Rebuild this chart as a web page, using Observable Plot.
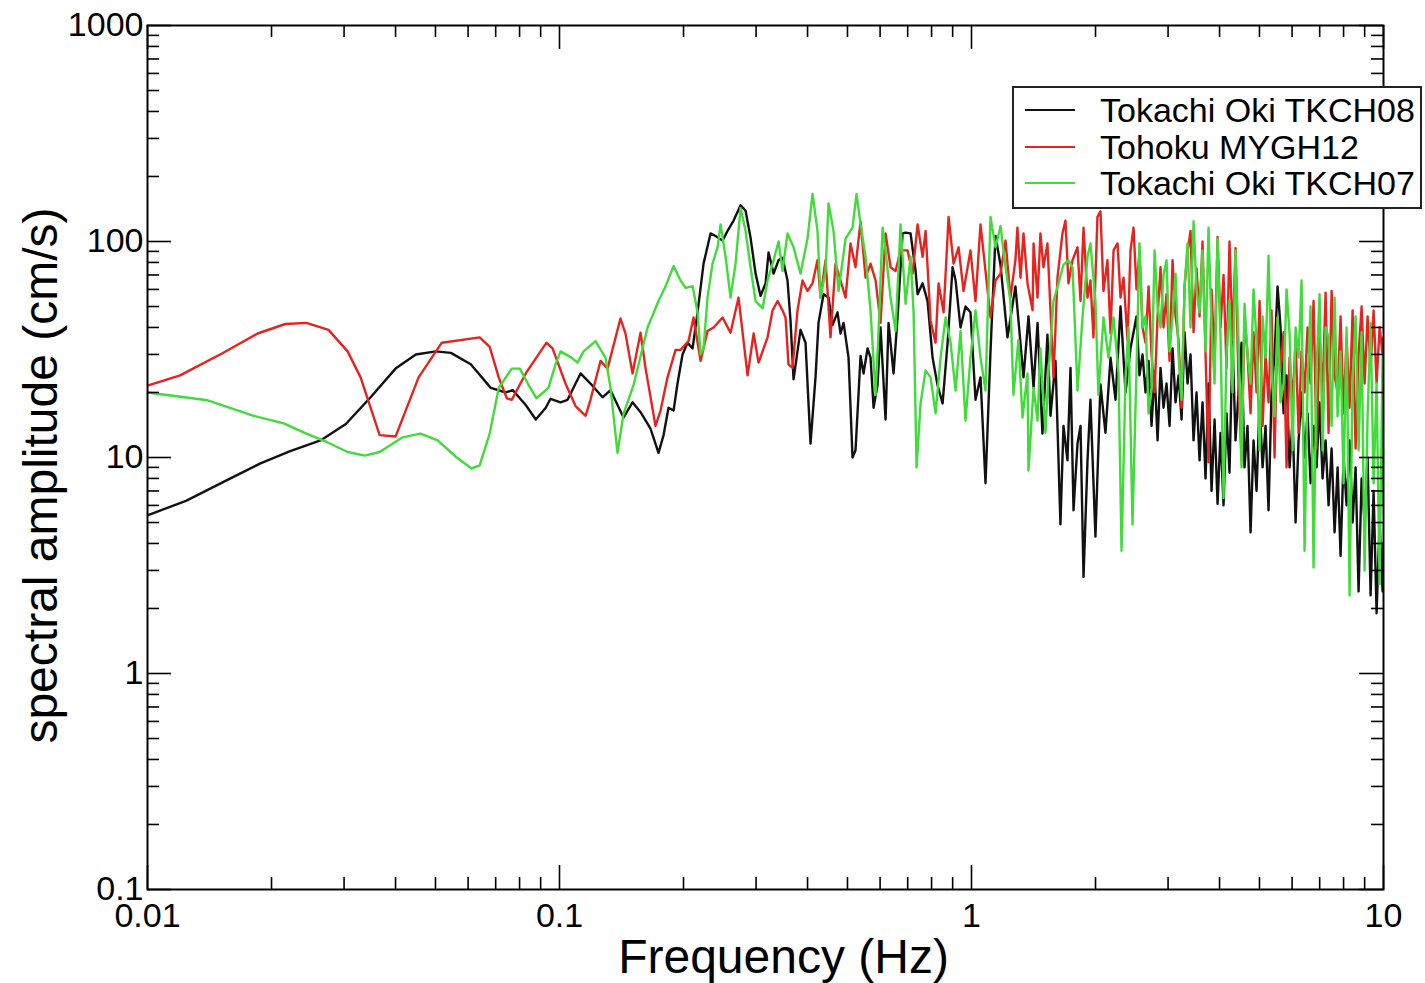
<!DOCTYPE html>
<html><head><meta charset="utf-8">
<script src="https://cdn.jsdelivr.net/npm/d3@7"></script>
<script src="https://cdn.jsdelivr.net/npm/@observablehq/plot@0.6"></script>
<style>
html,body{margin:0;padding:0;background:#fff;}
#wrap{position:relative;width:1425px;height:983px;}
#legend{position:absolute;left:1012px;top:86px;width:410px;height:123px;border:2px solid #222;background:#fff;font-family:"Liberation Sans",Arial,sans-serif;font-size:34px;box-sizing:border-box;}
.row{position:absolute;left:0;height:36px;display:flex;align-items:center;white-space:nowrap;}
.sw{width:50px;height:0;border-top:2px solid;margin-left:11px;margin-right:25px;}
</style></head>
<body><div id="wrap"><div id="chart"></div><div id="legend"></div></div>
<script>
const seriesNames = ["Tokachi Oki TKCH08", "Tohoku MYGH12", "Tokachi Oki TKCH07"];
const seriesColors = ["#111111", "#e8231e", "#3fdc3a"];
const xTickValues = [0.01, 0.1, 1, 10];
const yTickValues = [0.1, 1, 10, 100, 1000];
const xLabel = "Frequency (Hz)";
const yLabel = "spectral amplitude (cm/s)";

// [frequency (Hz), spectral amplitude (cm/s)] up to 2.5 Hz
const tkch08 = [[0.01,5.4],[0.0124,6.3],[0.0159,8],[0.0188,9.4],[0.0222,10.7],[0.0263,12],[0.0303,14.3],[0.0348,19],[0.0400,25.8],[0.0448,30],[0.0501,31],[0.0545,30.5],[0.0609,27],[0.0681,21],[0.0741,20],[0.0770,20.5],[0.0828,17.5],[0.0876,15],[0.0926,17],[0.0951,18.7],[0.1006,18],[0.1046,18.5],[0.1125,24.5],[0.1189,22],[0.1272,19],[0.1330,20.5],[0.1430,15.3],[0.1504,18],[0.1573,16.2],[0.1663,13.6],[0.1739,10.5],[0.1789,12.7],[0.1839,17],[0.1892,16.5],[0.1934,22],[0.1989,30],[0.2045,34],[0.2104,32],[0.2163,47],[0.2237,79],[0.2326,109],[0.2392,106],[0.2488,101],[0.2558,112],[0.2646,125],[0.2751,147],[0.2829,139],[0.2909,104],[0.2992,71],[0.3076,56],[0.3164,64],[0.3217,89],[0.3309,71],[0.3402,82],[0.3478,84],[0.3576,66],[0.3637,43],[0.3699,23],[0.3846,39],[0.3955,34],[0.4067,11.6],[0.4182,23.5],[0.4253,42],[0.4374,57],[0.4498,55],[0.4599,41],[0.4729,47],[0.4810,37.5],[0.4892,42],[0.5030,29],[0.5143,10],[0.5230,10.8],[0.5379,29.5],[0.5470,24.5],[0.5594,32],[0.5688,29],[0.5785,17],[0.5915,21.7],[0.6015,40],[0.6186,15],[0.6290,42],[0.6469,24.5],[0.6615,44.5],[0.6803,109],[0.6918,110],[0.7114,109],[0.7316,73],[0.7398,57],[0.7608,64],[0.7823,53],[0.8045,29],[0.8272,21.6],[0.8508,17.8],[0.8749,34],[0.8997,76],[0.9149,66],[0.9404,40],[0.9671,50],[0.9944,47],[1.0226,18.5],[1.0516,23.5],[1.0815,7.6],[1.112,31],[1.1436,106],[1.176,78],[1.2229,36],[1.2783,62],[1.3374,23.5],[1.3751,45],[1.4146,21],[1.4465,42],[1.4866,12.9],[1.5287,37],[1.555,15.6],[1.5992,28],[1.644,4.9],[1.6719,14],[1.7096,9.7],[1.739,26],[1.7686,5.7],[1.8084,11.6],[1.839,14],[1.8703,2.8],[1.9124,9.7],[1.944,18.5],[1.9992,4.3],[2.056,21.8],[2.1144,13],[2.175,29],[2.2368,18.5],[2.300,50],[2.3653,20],[2.432,32]];

const mygh12 = [[0.01,21.5],[0.0120,24],[0.0152,30.4],[0.0185,37.5],[0.0216,41.5],[0.0243,42],[0.0275,39],[0.0306,31],[0.0329,23.5],[0.0366,12.7],[0.0400,12.5],[0.0455,23.5],[0.0518,34],[0.0640,36],[0.0677,32.5],[0.0712,23.5],[0.0745,18.8],[0.0766,18.5],[0.0828,24.5],[0.0930,34],[0.0962,32],[0.1034,22],[0.1094,17.3],[0.1157,15.6],[0.1189,18.5],[0.1258,28],[0.1308,25.8],[0.1406,44],[0.1446,37.5],[0.1504,24.5],[0.1573,37.8],[0.1617,26],[0.1710,14],[0.1759,16.5],[0.1829,23.5],[0.1913,31.5],[0.1967,31.5],[0.2057,34.6],[0.2115,44.5],[0.2200,28],[0.2287,38.5],[0.2366,40],[0.2488,44.5],[0.2601,37.8],[0.2720,55],[0.2861,24],[0.2959,37.5],[0.3042,27.5],[0.3199,36],[0.3290,48],[0.3383,53],[0.3478,48],[0.3537,44.5],[0.3596,27],[0.3678,26],[0.3782,48],[0.3889,66],[0.3999,59],[0.4113,64],[0.4229,82],[0.4301,55],[0.4423,82],[0.4548,36],[0.4677,79],[0.4810,66],[0.4947,55],[0.5086,98],[0.5230,76],[0.5379,124],[0.5532,68],[0.5688,79],[0.5850,66],[0.6015,42],[0.6186,109],[0.6361,76],[0.6542,73],[0.6727,91],[0.6995,91],[0.7194,71],[0.7398,120],[0.7608,85],[0.7737,112],[0.7955,43],[0.8181,34],[0.8319,64],[0.8556,47],[0.8798,130],[0.9047,79],[0.9303,94],[0.9564,59],[0.9944,91],[1.0226,53],[1.0516,120],[1.0815,73],[1.112,44.5],[1.1436,66],[1.176,71],[1.2094,101],[1.243,55],[1.2783,82],[1.2926,116],[1.315,68],[1.3374,109],[1.3675,64],[1.4067,48],[1.4146,98],[1.4465,55],[1.470,109],[1.4950,76],[1.5287,98],[1.555,48],[1.5814,23.5],[1.6170,68],[1.6626,109],[1.6907,125],[1.7191,64],[1.7587,82],[1.8084,94],[1.839,53],[1.8703,116],[1.9124,55],[1.944,66],[1.9770,36],[2.0216,130],[2.056,138],[2.0910,59],[2.1380,82],[2.175,37.5],[2.2120,91],[2.2618,98],[2.300,55],[2.3391,68],[2.3918,35],[2.432,91],[2.4733,116]];

const tkch07 = [[0.01,20],[0.0140,18.4],[0.0181,15.6],[0.0214,14.4],[0.0243,12.9],[0.0272,11.8],[0.0306,10.6],[0.0337,10.2],[0.0366,10.6],[0.0416,12.4],[0.0460,12.9],[0.0506,12],[0.0563,10],[0.0612,8.9],[0.0640,9.2],[0.0677,12.9],[0.0712,21],[0.0766,25.8],[0.0801,25.8],[0.0838,22],[0.0879,18.8],[0.0940,21],[0.0978,27],[0.1006,31],[0.1069,29],[0.1106,27.5],[0.1144,31],[0.1223,34.6],[0.1293,29],[0.1330,21],[0.1383,10.5],[0.1430,15.9],[0.1513,21.7],[0.1636,40],[0.1739,53],[0.1809,62],[0.1892,77],[0.1967,66],[0.2023,61],[0.2104,62],[0.2163,47],[0.2200,30],[0.2237,32],[0.2287,55],[0.2352,79],[0.2419,94],[0.2460,120],[0.2530,85],[0.2601,55],[0.2675,79],[0.2751,143],[0.2829,112],[0.2909,76],[0.2992,53],[0.3111,49],[0.3199,66],[0.3309,82],[0.3402,100],[0.3478,73],[0.3576,109],[0.3699,94],[0.3846,71],[0.3999,103],[0.4113,166],[0.4229,112],[0.4301,55],[0.4423,73],[0.4498,150],[0.4625,112],[0.4756,59],[0.4947,103],[0.5143,116],[0.5259,166],[0.5379,120],[0.5532,85],[0.5688,48],[0.5850,19.5],[0.5948,38.5],[0.6083,116],[0.6186,91],[0.6361,55],[0.6542,38.5],[0.6727,120],[0.6918,51.5],[0.7114,85],[0.7235,47],[0.7357,9],[0.7523,17.8],[0.7737,25.3],[0.7955,23.5],[0.8181,16],[0.8413,29],[0.8652,44.5],[0.8896,34],[0.9149,20.4],[0.9404,38.5],[0.9671,14.8],[0.9944,29],[1.0226,48],[1.0516,29],[1.0815,20.4],[1.112,130],[1.1436,94],[1.176,118],[1.2094,76],[1.243,53],[1.2641,19.5],[1.2998,35],[1.3299,15.3],[1.3675,24.5],[1.3751,8.7],[1.4146,21],[1.4465,14.8],[1.470,32],[1.5117,13],[1.5372,24.5],[1.5814,53],[1.6261,64],[1.6719,78],[1.7191,82],[1.7587,76],[1.8084,20.4],[1.8598,44.5],[1.9124,85],[1.944,98],[1.9992,53],[2.0328,19.5],[2.0910,44.5],[2.1500,29],[2.2120,44.5],[2.2744,24.5],[2.3129,3.7],[2.3653,23.5],[2.4051,40],[2.4595,4.9]];

// high-frequency part (2.5–10 Hz): frequencies and amplitudes
const hfFreq = [2.515,2.557,2.601,2.645,2.690,2.735,2.782,2.829,2.876,2.925,2.974,3.025,3.076,3.128,3.181,3.235,3.290,3.345,3.401,3.459,3.517,3.577,3.637,3.699,3.761,3.825,3.890,3.956,4.022,4.090,4.159,4.229,4.301,4.374,4.447,4.523,4.599,4.677,4.757,4.837,4.919,5.002,5.087,5.173,5.260,5.349,5.440,5.532,5.625,5.721,5.817,5.916,6.016,6.118,6.221,6.326,6.433,6.542,6.652,6.765,6.879,6.996,7.114,7.235,7.357,7.482,7.608,7.737,7.867,8.001,8.136,8.273,8.414,8.556,8.700,8.848,8.997,9.149,9.304,9.462,9.621,9.784,9.950,10];
const tkch08Hf = [45,24,30,20,28,14,25,12,26,17, 22,14,32,18,24,15,38,22,30,12, 20,9.7,18,8,22,7,15,6.1,13,6, 16,8.5,35,12,20,34,9,14,4.5,12, 7,18,9,14,5.7,20,30,62,40,16, 24,9,15,5,12,20,10,16,7.6,14, 9,18,8,12,6,11,4.5,9,3.5,10, 6,12,5,9,2.4,8,5,10,2.3,7, 1.9,5,2.4,4];
const mygh12Hf = [60,90,40,34,62,30,20,45,76,40, 57,28,82,45,35,17,62,90,112,38, 75,45,100,30,9.5,60,28,105,40,70, 26,100,35,93,22,9.7,45,30,16,38, 20,53,14,30,18,48,10,44,25,38, 9,29,18,35,13,31,20,40,22,53, 11,36,20,58,13,59,24,20,45,16, 36,17,48,11,30,50,22,45,26,48, 22,40,30,36];
const tkch07Hf = [26,98,40,45,16,21,91,50,40,70, 82,31,45,71,30,18.5,62,98,40,124, 60,47,91,31,116,40,22,103,36,6.5, 30,53,20,91,35,9,51.5,30,22,60, 34,10.8,45,29,86,25,15.5,44.5,18,22, 60,37.5,10.8,40,29,66,3.7,22,50,3.1, 26,57,10.8,40,36,14,55,15.5,31,7.6, 40,2.3,22,45,10.8,38,3,15.5,42,7.6, 22,2.6,30,6];

function joinHf(low, hf) {
  const n = Math.min(hfFreq.length, hf.length);
  const out = low.slice();
  for (let i = 0; i < n; i++) out.push([hfFreq[i], hf[i]]);
  return out;
}
const seriesData = [joinHf(tkch08, tkch08Hf), joinHf(mygh12, mygh12Hf), joinHf(tkch07, tkch07Hf)];

// minor tick positions (2..9 within each decade)
function minorTicks(lo, hi) {
  const out = [];
  for (let d = lo; d < hi * 0.999; d *= 10) for (let k = 2; k <= 9; k++) out.push(+(d * k).toPrecision(3));
  return out;
}
const xMinor = minorTicks(0.01, 10);
const yMinor = minorTicks(0.1, 1000);

const W = 1425, H = 983, mL = 147, mR = 42, mT = 25, mB = 94;
const pw = W - mL - mR, ph = H - mT - mB;
const majorLen = 24, minorLen = 12;
const tickStyle = {stroke: "black", strokeWidth: 1.6};

const lineMarks = seriesData.map((s, i) =>
  Plot.line(s, {x: d => d[0], y: d => d[1], stroke: seriesColors[i], strokeWidth: 2.4, strokeLinejoin: "round", clip: true})
);

const chart = Plot.plot({
  width: W, height: H,
  marginLeft: mL, marginRight: mR, marginTop: mT, marginBottom: mB,
  x: {type: "log", domain: [0.01, 10], axis: null},
  y: {type: "log", domain: [0.1, 1000], axis: null},
  style: {fontFamily: "'Liberation Sans', Arial, sans-serif", fontSize: "34px", background: "white", color: "black"},
  marks: [
    ...lineMarks,
    Plot.tickX(xTickValues, {x: d => d, insetTop: ph - majorLen, ...tickStyle}),
    Plot.tickX(xMinor, {x: d => d, insetTop: ph - minorLen, ...tickStyle}),
    Plot.tickX(xTickValues, {x: d => d, insetBottom: ph - majorLen, ...tickStyle}),
    Plot.tickX(xMinor, {x: d => d, insetBottom: ph - minorLen, ...tickStyle}),
    Plot.tickY(yTickValues, {y: d => d, insetRight: pw - majorLen, ...tickStyle}),
    Plot.tickY(yMinor, {y: d => d, insetRight: pw - minorLen, ...tickStyle}),
    Plot.tickY(yTickValues, {y: d => d, insetLeft: pw - majorLen, ...tickStyle}),
    Plot.tickY(yMinor, {y: d => d, insetLeft: pw - minorLen, ...tickStyle}),
    Plot.frame({stroke: "black", strokeWidth: 2}),
    Plot.text(xTickValues, {x: d => d, frameAnchor: "bottom", lineAnchor: "middle", dy: 27, text: d => String(d), fontSize: 34, fill: "black"}),
    Plot.text(yTickValues, {y: d => d, frameAnchor: "left", lineAnchor: "middle", dx: -4, textAnchor: "end", text: d => String(d), fontSize: 34, fill: "black"}),
    Plot.text([xLabel], {frameAnchor: "bottom", lineAnchor: "middle", textAnchor: "middle", dx: 18, dy: 68, text: d => d, fontSize: 48, fill: "black"}),
    Plot.text([yLabel], {frameAnchor: "left", lineAnchor: "middle", textAnchor: "middle", dx: -106, dy: 18, rotate: -90, text: d => d, fontSize: 48, fill: "black"})
  ]
});
document.getElementById("chart").appendChild(chart);

// legend
const legend = document.getElementById("legend");
const rowCenters = [24, 61, 97];
seriesNames.forEach((name, i) => {
  const row = document.createElement("div");
  row.className = "row";
  row.style.top = (rowCenters[i] - 18 - 2) + "px";
  const sw = document.createElement("span");
  sw.className = "sw";
  sw.style.borderTopColor = seriesColors[i];
  const t = document.createElement("span");
  t.textContent = name;
  row.appendChild(sw); row.appendChild(t);
  legend.appendChild(row);
});
</script>
</body></html>
